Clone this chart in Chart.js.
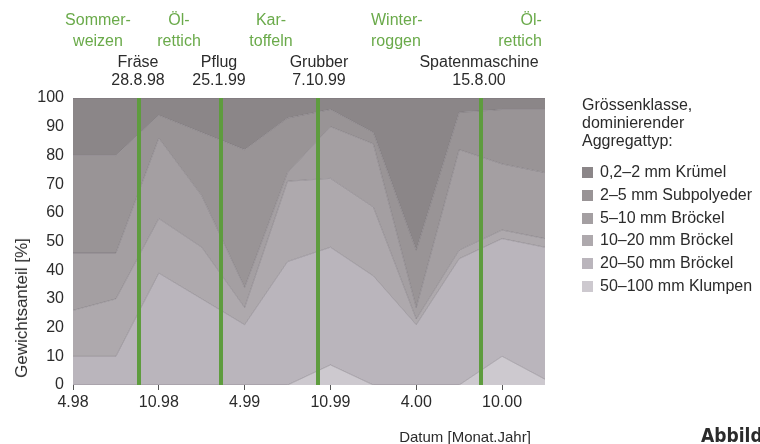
<!DOCTYPE html>
<html>
<head>
<meta charset="utf-8">
<script src="https://cdn.jsdelivr.net/npm/chart.js@4.4.1/dist/chart.umd.min.js"></script>
<style>
  body { margin: 0; background: #fff; }
  #wrap {
    position: relative; width: 760px; height: 444px; overflow: hidden;
    font-family: "Liberation Sans", Arial, sans-serif; color: #2b2b2b;
  }
  #chart { position: absolute; left: 0; top: 0; }
  .t { position: absolute; font-size: 16px; line-height: 20px; white-space: nowrap; }
  .c { text-align: center; transform: translateX(-50%); }
  .crop { color: #6aaa4a; line-height: 21px; }
  .legend { position: absolute; left: 582px; top: 96px; font-size: 16px; line-height: 18px; }
  .legend ul { list-style: none; margin: 11px 0 0 0; padding: 0; }
  .legend li { height: 22.8px; line-height: 22.8px; white-space: nowrap; }
  .legend i { display: inline-block; width: 11px; height: 11px; margin-right: 7px; vertical-align: -1px; }
</style>
</head>
<body>
<div id="wrap">
  <canvas id="chart" width="760" height="444"></canvas>

  <!-- crops grown between the tillage dates -->
  <div class="t c crop" style="left:98px; top:9px;">Sommer-<br>weizen</div>
  <div class="t c crop" style="left:179px; top:9px;">Öl-<br>rettich</div>
  <div class="t c crop" style="left:271px; top:9px;">Kar-<br>toffeln</div>
  <div class="t crop" style="left:371px; top:9px;">Winter-<br>roggen</div>
  <div class="t c crop" style="left:520px; top:9px; text-align:right;">Öl-<br>rettich</div>

  <!-- tillage implements and dates -->
  <div class="t c" style="left:138px; top:53px; line-height:18px;">Fräse<br>28.8.98</div>
  <div class="t c" style="left:219px; top:53px; line-height:18px;">Pflug<br>25.1.99</div>
  <div class="t c" style="left:319px; top:53px; line-height:18px;">Grubber<br>7.10.99</div>
  <div class="t c" style="left:479px; top:53px; line-height:18px;">Spatenmaschine<br>15.8.00</div>

  <div class="t" style="left:22px; top:308px; font-size:17px; transform:translate(-50%,-50%) rotate(-90deg);">Gewichtsanteil [%]</div>
  <div class="t c" style="left:465px; top:427px; font-size:15px;">Datum [Monat.Jahr]</div>
  <div class="t" style="left:701px; top:425px; font-family:'Liberation Sans Narrow','DejaVu Sans Condensed',sans-serif; font-weight:bold; font-size:19px;">Abbild</div>

  <div class="legend" id="legend">
    Grössenklasse,<br>dominierender<br>Aggregattyp:
    <ul id="legend-list"></ul>
  </div>
</div>

<script>
// --- data ---
// quarterly sampling dates (Monat.Jahr)
const sampleDates = ['4.98', '7.98', '10.98', '1.99', '4.99', '7.99', '10.99', '1.00', '4.00', '7.00', '10.00', '1.01'];
const tickLabels = ['4.98', '10.98', '4.99', '10.99', '4.00', '10.00'];

// size classes, top of the stack first (as in the legend)
const classNames = ['0,2–2 mm Krümel', '2–5 mm Subpolyeder', '5–10 mm Bröckel', '10–20 mm Bröckel', '20–50 mm Bröckel', '50–100 mm Klumpen'];

// weight share per class [%]
const kruemel     = [20, 20, 6, 12, 18, 7, 4, 12, 53, 5, 4, 4];
const subpolyeder = [34, 34, 8, 22, 48, 19, 6, 4, 20, 13, 19, 22];
const broeckel5   = [20, 16, 28, 18, 7, 3, 18, 22, 4, 35, 23, 23];
const broeckel10  = [16, 20, 19, 18, 6, 28, 24, 24, 2, 3, 3, 3];
const broeckel20  = [10, 10, 39, 30, 21, 43, 41, 38, 21, 44, 41, 46];
const klumpen     = [0, 0, 0, 0, 0, 0, 7, 0, 0, 0, 10, 2];

// tillage events, position on the sampling axis (in sampling steps)
const eventAt = [1.53, 3.45, 5.71, 9.52];

const classColors = ['#8b8688', '#999496', '#a49fa2', '#aea9ad', '#bab5bc', '#cdc9cf'];

// --- legend (html) ---
const legendList = document.getElementById('legend-list');
classNames.forEach((name, i) => {
    const li = document.createElement('li');
    li.innerHTML = `<i style="background:${classColors[i]}"></i>${name}`;
    legendList.appendChild(li);
});

// stack from the bottom up
const series = [klumpen, broeckel20, broeckel10, broeckel5, subpolyeder, kruemel];
const datasets = series.map((values, k) => {
    const idx = classNames.length - 1 - k;
    return {
        label: classNames[idx],
        data: values,
        backgroundColor: classColors[idx],
        borderColor: 'rgba(95,90,96,0.35)',
        borderWidth: 1,
        pointRadius: 0,
        tension: 0,
        fill: k === 0 ? 'origin' : '-1'
    };
});

// green vertical lines at the tillage dates
const eventLines = {
    id: 'eventLines',
    afterDatasetsDraw(chart) {
        const { ctx, chartArea, scales } = chart;
        ctx.save();
        ctx.strokeStyle = '#5e9c3e';
        ctx.lineWidth = 4;
        eventAt.forEach(v => {
            const x = Math.round(scales.x.getPixelForValue(v));
            ctx.beginPath();
            ctx.moveTo(x, chartArea.top);
            ctx.lineTo(x, chartArea.bottom);
            ctx.stroke();
        });
        ctx.restore();
    }
};

const tickFont = { family: "'Liberation Sans', Arial, sans-serif", size: 16 };

new Chart(document.getElementById('chart'), {
    type: 'line',
    data: { labels: sampleDates, datasets },
    options: {
        responsive: false,
        animation: false,
        layout: { padding: { left: 33, top: 98, right: 215, bottom: 19 } },
        plugins: { legend: { display: false }, tooltip: { enabled: false } },
        scales: {
            x: {
                offset: false,
                grid: {
                    drawOnChartArea: false,
                    tickLength: 5,
                    color: c => tickLabels.includes(sampleDates[c.index]) ? '#555' : 'rgba(0,0,0,0)'
                },
                border: { display: false },
                ticks: {
                    autoSkip: false, maxRotation: 0, padding: 3,
                    color: '#2b2b2b', font: tickFont,
                    callback: (v, i) => tickLabels.includes(sampleDates[i]) ? sampleDates[i] : ''
                },
                afterFit: s => { s.height = 40; }
            },
            y: {
                stacked: true, min: 0, max: 100,
                grid: { display: false, drawTicks: false },
                border: { display: false },
                ticks: { stepSize: 10, padding: 9, color: '#2b2b2b', font: tickFont },
                afterFit: s => { s.width = 40; }
            }
        }
    },
    plugins: [eventLines]
});
</script>
</body>
</html>
